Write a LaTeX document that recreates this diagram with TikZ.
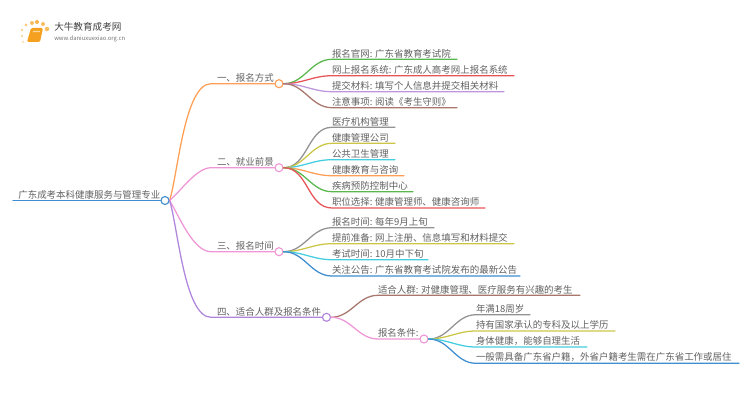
\documentclass[tikz,border=0pt]{standalone}
\usepackage{fontspec}
\setmainfont{Noto Sans CJK SC}
\usepackage{xcolor}
\usetikzlibrary{positioning}
\definecolor{linkblue}{RGB}{62,142,208}
\definecolor{linkorange}{RGB}{255,158,84}
\definecolor{linkpink}{RGB}{238,150,214}
\definecolor{linkpurple}{RGB}{176,134,220}
\definecolor{linkgreen}{RGB}{88,184,76}
\definecolor{linkred}{RGB}{230,84,88}
\definecolor{linklilac}{RGB}{190,150,220}
\definecolor{linkbrown}{RGB}{168,118,108}
\definecolor{linkgray}{RGB}{146,146,146}
\definecolor{linkolive}{RGB}{204,198,70}
\definecolor{linkcyan}{RGB}{66,206,224}
\definecolor{bookorange}{RGB}{245,160,30}
\newcommand{\cn}{:\hspace{2pt}}
\tikzset{
  dot/.style={circle, draw, fill=white, line width=0.85pt, minimum size=6pt, inner sep=0pt},
  label/.style={anchor=south west, inner xsep=0pt, inner ysep=1pt, outer sep=0pt, text=black!62, font=\fontsize{7.1pt}{8pt}\selectfont, align=left},
  link/.style={line width=0.95pt, line cap=round},
  sun/.style={circle, fill=#1, inner sep=0pt, minimum size=3pt}
}
\begin{document}
\begin{tikzpicture}[x=0.75pt, y=-0.75pt]
\useasboundingbox (0,0) rectangle (750,410);

% logo
\node[sun=bookorange!55, minimum size=2.6pt] (s1) at (26,25) {};
\node[sun=bookorange!70, minimum size=3pt] (s2) at (32,23) {};
\node[sun=bookorange!80, minimum size=3pt] (s3) at (37,22) {};
\node[sun=bookorange!70, minimum size=3pt] (s4) at (43,24) {};
\node[sun=bookorange!70, minimum size=3.4pt] (s5) at (47,29) {};
\node[sun=bookorange!50, minimum size=2.2pt] (s6) at (22,30) {};
\node[sun=bookorange!40, minimum size=2pt] (s7) at (22,36) {};
\node[sun=bookorange!30, minimum size=2pt] (s8) at (23,42) {};
\fill[bookorange, rounded corners=1pt] (31,28) -- (43,28) -- (40,42) -- (27,42) -- cycle;
\fill[white!60!bookorange] (33,31) -- (40,31) -- (39.7,32.2) -- (32.7,32.2) -- cycle;
\fill[left color=white, middle color=black!18, right color=white] (44,33) rectangle (133,33.8);
\node[anchor=west, inner sep=0pt, text=black!75, font=\fontsize{7.2pt}{8pt}\selectfont] (brand) at (54,27) {大牛教育成考网};
\node[anchor=west, inner sep=0pt, text=black!55, font=\fontsize{4.4pt}{5pt}\selectfont] (site) at (54,38.5) {www.daniuxuexiao.org.cn};

% main nodes
\node[dot, draw=linkblue] (root) at (165,200.5) {};
\node[dot, draw=linkorange] (fangshi) at (279,83.7) {};
\node[dot, draw=linkpink] (qianjing) at (279,167.7) {};
\node[dot, draw=linkpink] (shijian) at (279,251.7) {};
\node[dot, draw=linkpurple] (tiaojian) at (326.5,317.3) {};
\node[dot, draw=linkpink] (baoming) at (424,339) {};

\node[label, text width=147*0.75pt] (roottext) at (13,200.5) {\hspace*{4pt}广东成考本科健康服务与管理专业};
\node[label, text width=64*0.75pt] (fangshitext) at (211,83.7) {\hspace*{4.5pt}一、报名方式};
\node[label, text width=64*0.75pt] (qianjingtext) at (211,167.7) {\hspace*{4.5pt}二、就业前景};
\node[label, text width=64*0.75pt] (shijiantext) at (211,251.7) {\hspace*{4.5pt}三、报名时间};
\node[label, text width=112*0.75pt] (tiaojiantext) at (211,317.3) {\hspace*{4.5pt}四、适合人群及报名条件};
\node[label, text width=42*0.75pt] (baomingtext) at (378,339) {报名条件:};

% leaves
\node[label, text width=125*0.75pt] (a1) at (332,59.3) {报名官网\cn 广东省教育考试院};
\node[label, text width=182*0.75pt] (a2) at (332,75.7) {网上报名系统\cn 广东成人高考网上报名系统};
\node[label, text width=172*0.75pt] (a3) at (332,91.7) {提交材料\cn 填写个人信息并提交相关材料};
\node[label, text width=125*0.75pt] (a4) at (332,107.7) {注意事项\cn 阅读《考生守则》};

\node[label, text width=63*0.75pt] (b1) at (332,127.3) {医疗机构管理};
\node[label, text width=63*0.75pt] (b2) at (332,143.3) {健康管理公司};
\node[label, text width=63*0.75pt] (b3) at (332,159.7) {公共卫生管理};
\node[label, text width=72*0.75pt] (b4) at (332,175.7) {健康教育与咨询};
\node[label, text width=81*0.75pt] (b5) at (332,191.7) {疾病预防控制中心};
\node[label, text width=153*0.75pt] (b6) at (332,208) {职位选择\cn 健康管理师、健康咨询师};

\node[label, text width=102*0.75pt] (c1) at (332,227.7) {报名时间\cn 每年9月上旬};
\node[label, text width=182*0.75pt] (c2) at (332,243.7) {提前准备\cn 网上注册、信息填写和材料提交};
\node[label, text width=96*0.75pt] (c3) at (332,259.7) {考试时间\cn 10月中下旬};
\node[label, text width=188*0.75pt] (c4) at (332,276) {关注公告\cn 广东省教育考试院发布的最新公告};

\node[label, text width=202*0.75pt] (d1) at (378,295.3) {适合人群\cn 对健康管理、医疗服务有兴趣的考生};

\node[label, text width=54*0.75pt] (e1) at (476,314.7) {年满18周岁};
\node[label, text width=139*0.75pt] (e2) at (476,331) {持有国家承认的专科及以上学历};
\node[label, text width=111*0.75pt] (e3) at (476,347) {身体健康，能够自理生活};
\node[label, text width=263*0.75pt] (e4) at (476,363.3) {一般需具备广东省户籍，外省户籍考生需在广东省工作或居住};

% connectors
\draw[link, linkblue] (roottext.south west) -- (root.west);
\draw[link, linkorange] (root.east) to[out=72,in=180,looseness=0.55] (fangshitext.south west) -- (fangshi.west);
\draw[link, linkpink] (root.east) to[out=40,in=180,looseness=0.7] (qianjingtext.south west) -- (qianjing.west);
\draw[link, linkpink] (root.east) to[out=-58,in=180,looseness=0.7] (shijiantext.south west) -- (shijian.west);
\draw[link, linkpurple] (root.east) to[out=-72,in=180,looseness=0.55] (tiaojiantext.south west) -- (tiaojian.west);

\draw[link, linkgreen] (fangshi.east) to[out=0,in=180] (a1.south west) -- (a1.south east);
\draw[link, linkred] (fangshi.east) to[out=0,in=180] (a2.south west) -- (a2.south east);
\draw[link, linklilac] (fangshi.east) to[out=0,in=180] (a3.south west) -- (a3.south east);
\draw[link, linkbrown] (fangshi.east) to[out=0,in=180] (a4.south west) -- (a4.south east);

\draw[link, linkgray] (qianjing.east) to[out=0,in=180] (b1.south west) -- (b1.south east);
\draw[link, linkolive] (qianjing.east) to[out=0,in=180] (b2.south west) -- (b2.south east);
\draw[link, linkcyan] (qianjing.east) to[out=0,in=180] (b3.south west) -- (b3.south east);
\draw[link, linkorange] (qianjing.east) to[out=0,in=180] (b4.south west) -- (b4.south east);
\draw[link, linkgreen] (qianjing.east) to[out=0,in=180] (b5.south west) -- (b5.south east);
\draw[link, linkred] (qianjing.east) to[out=0,in=180] (b6.south west) -- (b6.south east);

\draw[link, linkgray] (shijian.east) to[out=0,in=180] (c1.south west) -- (c1.south east);
\draw[link, linkolive] (shijian.east) to[out=0,in=180] (c2.south west) -- (c2.south east);
\draw[link, linkcyan] (shijian.east) to[out=0,in=180] (c3.south west) -- (c3.south east);
\draw[link, linkblue] (shijian.east) to[out=0,in=180] (c4.south west) -- (c4.south east);

\draw[link, linkbrown] (tiaojian.east) to[out=0,in=180] (d1.south west) -- (d1.south east);
\draw[link, linkpink] (tiaojian.east) to[out=0,in=180] (baomingtext.south west) -- (baoming.west);

\draw[link, linkgray] (baoming.east) to[out=0,in=180] (e1.south west) -- (e1.south east);
\draw[link, linkolive] (baoming.east) to[out=0,in=180] (e2.south west) -- (e2.south east);
\draw[link, linkcyan] (baoming.east) to[out=0,in=180] (e3.south west) -- (e3.south east);
\draw[link, linkblue] (baoming.east) to[out=0,in=180] (e4.south west) -- (e4.south east);
\end{tikzpicture}
\end{document}
